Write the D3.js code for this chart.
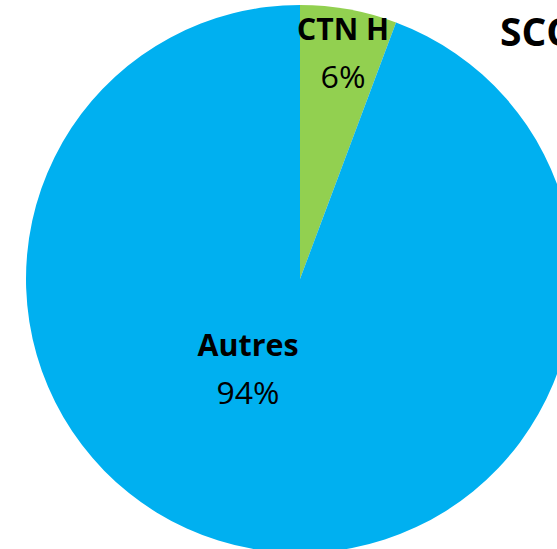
<!DOCTYPE html>
<html><head><meta charset="utf-8">
<script src="https://cdn.jsdelivr.net/npm/d3@7"></script>
<style>html,body{margin:0;padding:0;background:#fff;overflow:hidden}</style>
</head><body>
<svg id="c" width="557" height="549"></svg>
<script>
const categories = ["CTN H", "Autres"];
const values = [5.7, 94.3];
const pctLabels = ["6%", "94%"];
const colors = ["#92D050", "#00B0F0"];
const title = "SCOT";

const svg = d3.select("#c");
const cx = 300, cy = 279, r = 274;
const g = svg.append("g").attr("transform", `translate(${cx},${cy})`);
const pie = d3.pie().sort(null).value(d => d)(values);
const arc = d3.arc().innerRadius(0).outerRadius(r);
g.selectAll("path").data(pie).enter().append("path")
  .attr("d", arc).attr("fill", (d, i) => colors[i]);

const font = "'Open Sans', sans-serif";
const labelPos = [[343, 40], [248, 356]];
categories.forEach((c, i) => {
  svg.append("text").attr("x", labelPos[i][0]).attr("y", labelPos[i][1])
    .attr("text-anchor", "middle").attr("font-family", font)
    .attr("font-weight", "bold").attr("font-size", 31).attr("fill", "#000")
    .attr("textLength", i === 0 ? 92 : 101).attr("lengthAdjust", "spacingAndGlyphs").text(c);
  svg.append("text").attr("x", labelPos[i][0]).attr("y", labelPos[i][1] + 48)
    .attr("text-anchor", "middle").attr("font-family", font)
    .attr("font-size", 31).attr("fill", "#000")
    .attr("textLength", i === 0 ? 45 : 63).attr("lengthAdjust", "spacingAndGlyphs").text(pctLabels[i]);
});
svg.append("text").attr("x", 500).attr("y", 46).attr("font-family", font)
  .attr("font-weight", "bold").attr("font-size", 39).attr("fill", "#000").text(title);
</script>
</body></html>
